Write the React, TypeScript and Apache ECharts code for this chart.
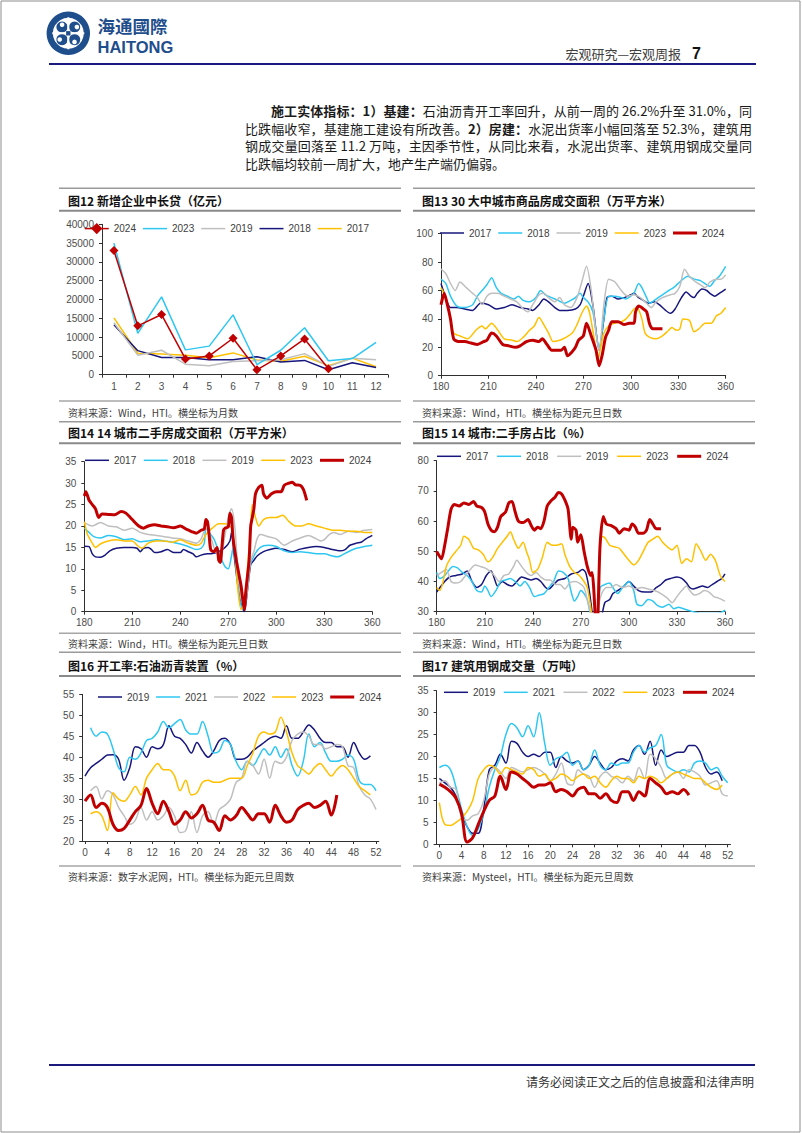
import React, { useEffect, useRef } from 'react';
import * as echarts from 'echarts';

const FONT = 'Arial, "Liberation Sans", Helvetica, sans-serif';
const CJK = '"Noto Sans CJK SC", "Noto Sans", sans-serif';
const NAVY = '#16167d';
const CYAN = '#2ec7f2';
const GRAY = '#bfbfbf';
const GOLD = '#ffc000';
const RED = '#c00000';

// ---------- 图12 新增企业中长贷（亿元） ----------
const months = ['1', '2', '3', '4', '5', '6', '7', '8', '9', '10', '11', '12'];
const loan2024 = [33000, 13000, 16000, 4200, 5000, 9700, 1300, 5000, 9500, 1600];
const loan2023 = [35000, 11000, 20700, 6600, 7600, 15900, 2700, 6500, 12500, 3700, 4300, 8600];
const loan2019 = [13800, 5200, 6500, 2800, 2400, 3500, 3700, 4000, 5600, 2200, 4400, 4000];
const loan2018 = [13300, 6400, 4600, 4600, 4000, 4000, 4800, 3400, 3800, 1300, 3200, 1900];
const loan2017 = [15100, 5700, 5500, 5200, 4500, 5800, 3900, 3600, 4900, 2400, 4400, 2100];

// ---------- 图13 30大中城市商品房成交面积 ----------
const h30_2017 = [[180,65],[183,55],[186,48],[190,48],[195,47],[200,46],[205,51],[210,50],[215,47],[220,48],[225,50],[230,48],[235,47],[238,46],[242,50],[245,54],[248,52],[252,48],[255,46],[260,46],[265,47],[268,50],[270,56],[273,65],[276,50],[280,18],[283,40],[285,55],[288,56],[292,54],[296,55],[300,57],[302,58],[305,55],[308,53],[311,51],[315,52],[318,50],[322,46],[325,44],[328,47],[332,55],[335,59],[338,56],[340,55],[342,58],[345,61],[348,60],[350,58],[353,56],[356,58],[360,61]];
const h30_2018 = [[180,68],[183,65],[186,56],[190,49],[195,48],[200,50],[203,56],[206,60],[209,64],[212,69],[215,62],[218,58],[222,56],[226,54],[229,56],[232,53],[236,52],[240,55],[243,60],[246,57],[250,55],[254,53],[258,51],[262,53],[265,55],[268,58],[270,55],[273,52],[276,45],[280,20],[283,40],[286,56],[290,56],[294,55],[297,54],[300,56],[302,58],[305,65],[307,62],[310,55],[312,51],[316,54],[320,57],[324,60],[327,62],[330,65],[333,68],[336,70],[340,68],[344,67],[348,64],[350,63],[353,67],[356,70],[360,77]];
const h30_2019 = [[180,75],[183,72],[186,65],[189,60],[192,66],[196,62],[200,58],[203,55],[206,50],[209,56],[212,58],[216,58],[220,56],[224,54],[228,52],[232,47],[235,45],[238,50],[242,57],[245,58],[248,55],[252,52],[255,55],[258,50],[262,48],[266,55],[269,66],[272,77],[275,60],[278,30],[280,18],[283,50],[286,68],[290,66],[294,60],[298,56],[302,57],[306,55],[310,51],[313,48],[316,52],[320,55],[325,57],[328,58],[331,63],[334,75],[337,70],[340,67],[344,64],[347,62],[350,66],[354,68],[357,68],[360,71]];
const h30_2023 = [[180,62],[183,55],[186,40],[188,30],[192,28],[197,26],[202,32],[206,35],[208,33],[212,37],[216,32],[220,26],[225,25],[228,24],[232,27],[236,32],[239,35],[242,41],[245,36],[248,30],[251,24],[255,25],[259,27],[263,30],[266,36],[269,44],[272,49],[274,44],[277,25],[279,10],[281,20],[283,30],[286,35],[290,37],[294,38],[297,40],[300,44],[302,47],[304,48],[307,40],[309,30],[312,27],[316,26],[320,28],[324,32],[326,34],[329,32],[331,33],[333,40],[337,39],[340,31],[343,33],[347,37],[351,37],[354,42],[357,44],[360,48]];
const h30_2024 = [[180,50],[182,58],[184,50],[186,40],[188,26],[191,24],[195,24],[199,23],[203,22],[207,24],[209,25],[212,30],[215,28],[219,22],[223,21],[227,20],[230,21],[234,24],[238,25],[242,24],[244,26],[247,22],[250,18],[253,18],[256,18],[258,20],[260,14],[263,17],[265,20],[267,25],[270,28],[272,37],[275,28],[278,18],[280,7],[282,15],[284,27],[286,32],[288,38],[292,38],[296,36],[299,37],[302,37],[303,45],[305,49],[308,47],[310,45],[312,36],[314,33],[317,33],[320,33]];

// ---------- 图14 14城市二手房成交面积 ----------
const s14_2017 = [[180,15.3],[183,15.2],[185,13.5],[187,12.8],[190,12.7],[193,13.2],[196,14.2],[200,14.8],[205,15],[210,15],[213,14.8],[215,14],[217,14.8],[220,15],[222,14.5],[224,13.8],[228,14],[232,14.5],[236,13.8],[240,13.8],[242,14.5],[245,14],[248,13.5],[250,12.8],[253,13.2],[257,13.5],[260,13.6],[264,14],[268,15],[271,16.5],[272,18.5],[274,12],[276,6],[278,2],[280,0],[282,5],[284,11],[286,12],[288,13],[292,14],[296,14.5],[300,14.8],[305,14.5],[310,14],[315,14.6],[320,15],[325,15.2],[330,15],[335,14.5],[340,14.2],[343,14.5],[346,15.5],[350,16],[353,16.2],[356,17],[360,17.8]];
const s14_2018 = [[180,19.5],[183,18.5],[186,17.5],[190,17.2],[195,17.8],[200,17.5],[205,16.8],[210,17],[215,16.3],[220,16.5],[225,16.8],[230,16.5],[235,16.2],[240,15.8],[245,15.2],[250,14.5],[253,14.8],[255,16],[256,19.5],[258,18.5],[261,17],[264,14],[266,12],[268,10.5],[270,10],[272,13],[273,15],[275,10],[277,3],[279,0.5],[281,5],[283,10],[286,13],[290,15],[295,15.5],[300,15.2],[305,14.2],[310,13.8],[315,14],[320,13.8],[325,13.5],[330,13.5],[335,13],[338,12.8],[340,13],[345,14],[350,14.8],[355,15.2],[360,15.5]];
const s14_2019 = [[180,20.8],[185,20],[190,20.8],[195,20],[200,19.8],[205,19],[210,19.5],[215,18.5],[220,18],[225,17.8],[230,17.5],[235,17.2],[240,17],[245,16.5],[250,16],[253,17],[256,19.5],[259,17.5],[262,14],[265,13],[268,18],[270,22],[272,24],[274,20],[276,10],[278,3],[280,1],[282,5],[284,12],[286,14],[288,17],[290,18],[295,17.5],[300,17],[305,15.5],[310,16.5],[315,17.2],[320,17.8],[325,17],[328,16.5],[330,16.8],[333,18],[336,18.5],[340,18],[345,18.8],[350,18.5],[355,19],[360,19.2]];
const s14_2023 = [[180,21],[182,18],[185,16],[187,15],[190,15.8],[195,16.5],[200,16.8],[205,16.5],[210,16.5],[213,15.5],[216,14.8],[220,16],[225,16.5],[230,16.5],[235,16.2],[240,16.8],[245,16],[250,15.5],[253,16],[256,18],[260,19.5],[264,20.5],[268,20.5],[272,19.5],[274,15],[276,5],[278,0.5],[280,2],[282,10],[284,20],[285,25],[287,22],[289,20],[292,21.5],[296,22],[300,22],[304,22.5],[308,21],[312,20],[316,20],[320,20.5],[325,20],[330,19.5],[335,19],[340,19],[345,18.8],[350,18.8],[355,18.5],[360,18.5]];
const s14_2024 = [[180,27],[181,28],[183,26],[185,25],[187,24],[189,22],[191,22.8],[195,22.7],[199,22.6],[203,23.4],[206,23],[210,21.5],[214,20],[217,19.5],[220,20],[224,20.3],[228,20],[232,19.8],[236,19.6],[240,20],[244,19.2],[247,18.7],[250,18.3],[253,19],[255,19.3],[256,21.5],[257,21],[258,18],[259,14.5],[261,14],[263,15],[264,12],[265,11.5],[266,15],[267,19],[268,19.5],[270,19.8],[271,23],[272,22],[273,17],[275,12],[277,8],[278,6],[279,3],[280,0.5],[281,5],[283,12],[284,20],[285,22],[286,24],[287,27.5],[289,29],[291,29.5],[292,27.5],[294,26.5],[297,27.5],[300,28],[303,28],[305,29.5],[308,30],[310,30.2],[312,29.6],[315,29.5],[317,28.5],[319,26]];

// ---------- 图15 14城市:二手房占比 ----------
const r15_2017 = [[180,36.5],[182,38],[185,40],[188,41.5],[192,42],[196,42.5],[199,43.5],[202,40],[205,38],[208,39],[211,42],[214,43.5],[216,41],[218,38.5],[221,40],[224,39],[227,38.5],[230,40],[233,41.5],[236,41],[239,40.5],[242,41],[245,40],[248,38],[250,37.5],[253,39],[256,40.5],[260,41],[264,42.5],[268,43],[271,44],[273,43],[275,38],[277,30],[279,22],[281,20],[283,28],[285,33],[288,34],[290,36],[293,37],[296,38],[300,40],[303,38.5],[306,37],[310,36.5],[314,36.5],[317,38],[320,39],[323,40.5],[326,41],[330,41.5],[333,41],[336,39.5],[338,38],[340,37.5],[343,38],[346,38.5],[349,38],[352,39],[355,40],[358,41],[360,42.5]];
const r15_2018 = [[180,43],[182,41],[185,42],[188,44],[190,45],[193,44.5],[196,43],[199,42],[202,40],[205,37],[208,36.5],[210,38.5],[212,37],[214,35],[217,37],[220,40],[223,40.5],[226,41],[229,40],[232,38.5],[235,40],[238,38],[241,35],[244,35.5],[247,36],[250,38],[253,40],[256,43.5],[259,43],[262,41],[264,36.5],[266,33.5],[268,35],[270,37],[272,36],[274,34],[276,29],[278,25],[280,24],[282,38],[285,39],[288,39.5],[290,38],[293,36],[296,38],[300,40],[303,37],[305,32.5],[308,32],[312,34],[315,33.5],[318,32],[321,31.5],[325,32.5],[328,31],[331,31.5],[334,31],[337,30.5],[340,30],[345,29.5],[350,29.5],[355,29.5],[358,29.8],[360,30.5]];
const r15_2019 = [[180,42],[183,43],[186,44],[189,40],[192,39.5],[195,40],[198,42],[201,44],[204,45.5],[207,45],[210,44.5],[213,43.5],[216,42],[219,40],[222,42],[225,42.5],[228,45],[230,47],[233,45],[236,43],[239,42],[242,43],[245,41.5],[248,40.5],[251,40.5],[254,39],[257,39],[260,37.5],[263,39.5],[266,40],[269,39.5],[272,38],[274,34],[276,30],[278,28],[280,30],[283,36],[286,38],[289,38],[292,39],[296,38],[300,38.5],[304,37.5],[308,38],[312,37.5],[316,37],[320,36],[324,34.5],[327,33],[330,35],[333,37],[336,38.5],[338,37],[341,35.5],[344,36],[347,37],[350,36.5],[353,35],[356,34.5],[360,33.5]];
const r15_2023 = [[180,38],[182,37],[184,40],[186,45],[189,48],[192,50],[195,52],[197,55],[200,54],[203,51],[206,50.5],[209,49],[212,46.5],[215,48],[218,51],[221,53],[224,55],[226,56.5],[228,54],[231,51],[234,53],[236,50],[238,47],[240,43],[243,44],[246,48],[249,53],[252,52],[255,52],[258,52.5],[260,49],[263,45],[266,43],[269,42],[272,40],[274,38],[276,32],[278,25],[280,22],[281,40],[283,55],[285,54.5],[288,52],[291,51.5],[294,51],[297,49],[300,47],[303,45.5],[306,47],[309,50],[312,53],[315,54],[318,55],[321,53],[324,51.5],[327,50.5],[330,52],[333,46],[336,47.5],[339,46.5],[342,52.5],[345,50],[348,47],[351,49],[354,47],[357,42],[360,40]];
const r15_2024 = [[180,50],[181,49],[183,47.5],[185,52],[187,58],[189,64],[191,65.5],[194,65],[197,66],[200,65.5],[203,66.5],[205,65],[208,64.5],[210,63],[212,59],[214,57],[216,56.5],[218,58],[220,61.5],[223,63],[225,66],[227,66.5],[229,63],[231,60],[234,59.5],[237,60.5],[239,58.5],[241,57],[243,58],[245,57.5],[247,60],[249,65],[251,66.5],[254,68],[256,69.5],[258,69],[260,67],[262,64],[264,54],[265,58],[267,57],[268,53],[270,55.5],[272,50],[274,45],[276,42],[277,43],[278,38],[279,28],[280,20],[281,35],[282,52],[284,61.5],[286,59],[289,58.5],[292,57.5],[294,56],[297,57.5],[300,57],[302,59],[304,58],[306,56],[309,56],[311,57],[313,60.5],[315,59],[317,57.5],[320,57.5]];

// ---------- 图16 开工率:石油沥青装置 / 图17 建筑用钢成交量 ----------
const weeks = ['0','1','2','3','4','5','6','7','8','9','10','11','12','13','14','15','16','17','18','19','20','21','22','23','24','25','26','27','28','29','30','31','32','33','34','35','36','37','38','39','40','41','42','43','44','45','46','47','48','49','50','51','52'];

const asph2019 = [35.5,37.5,38.5,39.5,40.5,40.6,39.5,34.5,37.5,42.5,42,40,42.5,42,43,47.5,45,44.5,43,41,43.5,41.5,40,41.5,44,44.5,43,39.5,39.5,40,41.5,42.5,43.5,44.5,45,44.5,47.5,44.5,44.5,46,47.7,46.5,44.5,43.5,43.5,42.5,42.5,40,43.5,41,39.5,40.3];
const asph2021 = [null,47,45,46,45.5,42,37.5,36.5,40,39.5,41,44,44.5,46,48.5,47,48,49,46.5,45.5,45.5,48.5,45,41,41.5,44,43,39,37,39,38,40,42,40.5,42.5,40,42,38,35.5,39,45.5,42.5,43.5,41,39,39,39.5,40.5,39.5,34.5,33.5,33.5,32];
const asph2022 = [null,32,33,30,32,31,28,26,24,25,28,25,27,25,26,28,26,22,22.5,27,22,26,27,24,27.5,28.5,30,34,35,39,38,36,39.5,35,39,38.5,40,44,45.5,46,45,43,43,42,42.5,43,42.5,38,37.5,33,31,30,27.5];
const asph2023 = [null,26.5,27,26,22.5,31.5,30,29.5,31,33,31,35,37,38.5,37,37,35.5,32,34.5,31,31.5,34,34.5,34,34,34.5,35,35,35,38,41,45,46,45.5,46,49.5,46,41,38,37,36,37.5,38.5,37,35.5,37,38,37,35,33,32,31];
const asph2024 = [29.5,31,28,29,28,24,22.5,23,25,27,28.5,32.5,29,26.5,29.5,27,24,25,27,25.5,26.5,28.5,25,24.5,22.5,26,25,26,28,26.5,25,26.5,26.5,24.5,28.5,26,24.5,25,27.5,28.5,29,28,28.5,29.5,26.2,31.0];

const steel2019 = [15,14,13,11,7,4,2.5,2.5,8,17,18,20.5,18.5,23.5,23,21,20,20.5,20,21,21,17.5,20,19,18.5,19,17,18,20,18.5,17,17.5,19,19.5,19,21.5,22.5,20.5,23.5,18,21.5,20,20.5,21,21,22.5,22.5,21,17.5,16,16.5,14.5];
const steel2021 = [17.5,18,17,13,8,4,2,3.5,7,13,17,20,25,27.5,26.5,24.5,27,24.5,30,23,18,19.5,20,21,18,19,17,18,21.5,18,17,18.5,18,18.5,18.5,21,22.5,21,22,22.5,25,18,17,16.5,17,16.5,18.5,19,18.5,17,17.5,15.5,14];
const steel2022 = [14,14.5,13,12.5,6,5.5,6.5,7,10,16,17.5,16.5,15,17.5,17,16.5,17,17.5,17,16,14.5,16,18.5,14,13.5,17,16,15.5,13,15.5,16.5,15.5,15,14,15.5,14.5,17.5,15,20.5,19.5,17.5,15,16,16.5,15,17,16.5,15.5,13.5,14,14.5,11.5,11];
const steel2023 = [9.5,4.5,4.3,5,6,7.5,10,15,17,18,17.5,16,17.5,17,16.5,16,17.5,17,15.5,16,14.5,15,16,15.5,14.5,15.5,16,15,15.5,14,13,14.5,15.5,15,15,14,15.5,15,15.5,15,14,15,16,16.5,16,15.5,15,15,14,13,12.5,13.5];
const steel2024 = [13.7,13,12,10.5,7,0.5,1.5,4.5,7.5,10,11,15.5,12.5,16.5,16,15,14,13,13.5,13.5,14,12,12.5,12,11,12.5,13,11.5,11.5,10.5,11.5,10,9.5,12,12,10,12,11,15,14,13,11.5,12,11.5,12.5,11.2];

// ---------- text ----------
const titles = [
  '图12 新增企业中长贷（亿元）',
  '图13 30 大中城市商品房成交面积（万平方米）',
  '图14 14 城市二手房成交面积（万平方米）',
  '图15 14 城市:二手房占比（%）',
  '图16 开工率:石油沥青装置（%）',
  '图17 建筑用钢成交量（万吨）',
];
const sources = [
  '资料来源：Wind，HTI。横坐标为月数',
  '资料来源：Wind，HTI。横坐标为距元旦日数',
  '资料来源：Wind，HTI。横坐标为距元旦日数',
  '资料来源：Wind，HTI。横坐标为距元旦日数',
  '资料来源：数字水泥网，HTI。横坐标为距元旦周数',
  '资料来源：Mysteel，HTI。横坐标为距元旦周数',
];

const ICON_THIN = 'path://M0,0H24V1.5H0Z';
const ICON_THICK = 'path://M0,0H24V3H0Z';

function buildOption() {
  const axisLine = { show: true, onZero: false, lineStyle: { color: '#303030', width: 1 } };
  const axisTick = { show: true, length: 3, lineStyle: { color: '#303030' } };
  const label = { fontSize: 10, color: '#4d4d4d', fontFamily: FONT };

  const grids = [
    { left: 102, top: 224.3, width: 286, height: 150.4 },
    { left: 441, top: 233.7, width: 284.7, height: 142 },
    { left: 84.3, top: 461.7, width: 288, height: 150 },
    { left: 436.7, top: 460.7, width: 288.3, height: 151 },
    { left: 82.2, top: 694.3, width: 296.6, height: 146.7 },
    { left: 436.6, top: 690.7, width: 293.9, height: 153.6 },
  ];

  const xDay = (i) => ({
    type: 'value', gridIndex: i, min: 180, max: 360, interval: 30,
    axisLine, axisTick, splitLine: { show: false },
    axisLabel: { ...label, margin: 6 },
  });
  const xWeek = (i) => ({
    type: 'category', gridIndex: i, data: weeks, boundaryGap: true,
    axisLine, axisTick: { ...axisTick, interval: 3, alignWithLabel: true }, splitLine: { show: false },
    axisLabel: { ...label, margin: 6, interval: 3 },
  });
  const xAxis = [
    { type: 'category', gridIndex: 0, data: months, boundaryGap: true, axisLine, axisTick, splitLine: { show: false }, axisLabel: { ...label, margin: 7, interval: 0 } },
    xDay(1), xDay(2), xDay(3), xWeek(4), xWeek(5),
  ];
  const yv = (i, min, max, interval) => ({
    type: 'value', gridIndex: i, min, max, interval,
    axisLine, axisTick, splitLine: { show: false },
    axisLabel: { ...label, margin: 8, formatter: (v) => String(v) },
  });
  const yAxis = [yv(0, 0, 40000, 5000), yv(1, 0, 100, 20), yv(2, 0, 35, 5), yv(3, 30, 80, 10), yv(4, 20, 55, 5), yv(5, 0, 35, 5)];

  const ln = (name, gi, data, color, width, smooth, z, extra = {}) => ({
    type: 'line', name, xAxisIndex: gi, yAxisIndex: gi, data,
    symbol: 'none', smooth, z,
    lineStyle: { color, width }, itemStyle: { color },
    emphasis: { disabled: true }, animation: false, ...extra,
  });

  const series = [
    ln('c12_2017', 0, loan2017, GOLD, 1.5, false, 2),
    ln('c12_2018', 0, loan2018, NAVY, 1.5, false, 2),
    ln('c12_2019', 0, loan2019, GRAY, 1.5, false, 2),
    ln('c12_2023', 0, loan2023, CYAN, 1.5, false, 2),
    ln('c12_2024', 0, loan2024, RED, 1.5, false, 3, { symbol: 'diamond', symbolSize: 9, showSymbol: true }),

    ln('c13_2017', 1, h30_2017, NAVY, 1.5, 0.25, 2),
    ln('c13_2018', 1, h30_2018, CYAN, 1.5, 0.25, 2),
    ln('c13_2019', 1, h30_2019, GRAY, 1.5, 0.25, 2),
    ln('c13_2023', 1, h30_2023, GOLD, 1.5, 0.25, 2),
    ln('c13_2024', 1, h30_2024, RED, 3, 0.25, 3),

    ln('c14_2017', 2, s14_2017, NAVY, 1.5, 0.25, 2),
    ln('c14_2018', 2, s14_2018, CYAN, 1.5, 0.25, 2),
    ln('c14_2019', 2, s14_2019, GRAY, 1.5, 0.25, 2),
    ln('c14_2023', 2, s14_2023, GOLD, 1.5, 0.25, 2),
    ln('c14_2024', 2, s14_2024, RED, 3, 0.25, 3),

    ln('c15_2017', 3, r15_2017, NAVY, 1.5, 0.25, 2),
    ln('c15_2018', 3, r15_2018, CYAN, 1.5, 0.25, 2),
    ln('c15_2019', 3, r15_2019, GRAY, 1.5, 0.25, 2),
    ln('c15_2023', 3, r15_2023, GOLD, 1.5, 0.25, 2),
    ln('c15_2024', 3, r15_2024, RED, 3, 0.25, 3),

    ln('c16_2019', 4, asph2019, NAVY, 1.5, 0.35, 2),
    ln('c16_2021', 4, asph2021, CYAN, 1.5, 0.35, 2),
    ln('c16_2022', 4, asph2022, GRAY, 1.5, 0.35, 2),
    ln('c16_2023', 4, asph2023, GOLD, 1.5, 0.35, 2),
    ln('c16_2024', 4, asph2024, RED, 3, 0.35, 3),

    ln('c17_2019', 5, steel2019, NAVY, 1.5, 0.35, 2),
    ln('c17_2021', 5, steel2021, CYAN, 1.5, 0.35, 2),
    ln('c17_2022', 5, steel2022, GRAY, 1.5, 0.35, 2),
    ln('c17_2023', 5, steel2023, GOLD, 1.5, 0.35, 2),
    ln('c17_2024', 5, steel2024, RED, 3, 0.35, 3),
  ];

  const itemFor = (n) => (n === 'c12_2024' ? { name: n } : { name: n, icon: n.endsWith('2024') ? ICON_THICK : ICON_THIN });
  const lg = (left, cy, gap, names) => ({
    left, top: cy - 7, padding: 0, itemWidth: 24, itemHeight: 14, itemGap: gap,
    data: names.map(itemFor),
    selectedMode: false,
    lineStyle: { width: 1.5 },
    itemStyle: { borderWidth: 0 },
    textStyle: { fontSize: 10, color: '#404040', fontFamily: FONT },
    formatter: (n) => n.split('_')[1],
  });
  const legend = [
    lg(84, 230, 7, ['c12_2024', 'c12_2023', 'c12_2019', 'c12_2018', 'c12_2017']),
    lg(440, 235, 7, ['c13_2017', 'c13_2018', 'c13_2019', 'c13_2023', 'c13_2024']),
    lg(85, 462.3, 7.5, ['c14_2017', 'c14_2018', 'c14_2019', 'c14_2023', 'c14_2024']),
    lg(437, 458.3, 8.8, ['c15_2017', 'c15_2018', 'c15_2019', 'c15_2023', 'c15_2024']),
    lg(98, 699, 6.8, ['c16_2019', 'c16_2021', 'c16_2022', 'c16_2023', 'c16_2024']),
    lg(444, 694.3, 8.5, ['c17_2019', 'c17_2021', 'c17_2022', 'c17_2023', 'c17_2024']),
  ];

  const g = [];
  const hline = (x1, x2, y, color, w) => g.push({ type: 'line', silent: true, shape: { x1, y1: y, x2, y2: y }, style: { stroke: color, lineWidth: w } });
  const txt = (x, y, text, font, fill, align = 'left') => g.push({ type: 'text', silent: true, x, y, style: { text, font, fill, align, verticalAlign: 'middle' } });

  // page frame
  g.push({ type: 'rect', silent: true, shape: { x: 1, y: 1, width: 799, height: 1131 }, style: { fill: 'none', stroke: '#8c8c8c', lineWidth: 1 } });

  // logo
  const LB = '#1f4e8c';
  const cx = 68.3, cy = 33.3;
  g.push({ type: 'circle', silent: true, shape: { cx, cy, r: 21.7 }, style: { fill: LB } });
  g.push({ type: 'circle', silent: true, shape: { cx, cy, r: 15.5 }, style: { fill: '#fff' } });
  [[-1, -1], [1, -1], [1, 1], [-1, 1]].forEach(([sx, sy]) => {
    g.push({ type: 'circle', silent: true, shape: { cx: cx + sx * 6.3, cy: cy + sy * 6.3, r: 5.6 }, style: { fill: LB } });
    g.push({ type: 'circle', silent: true, shape: { cx: cx + sx * 7.4 - sy * 1.2, cy: cy + sy * 7.4 + sx * 1.2, r: 2.3 }, style: { fill: '#fff' } });
  });
  g.push({ type: 'rect', silent: true, shape: { x: cx - 1, y: cy - 16, width: 2, height: 32 }, style: { fill: '#fff' } });
  g.push({ type: 'rect', silent: true, shape: { x: cx - 16, y: cy - 1, width: 32, height: 2 }, style: { fill: '#fff' } });
  g.push({ type: 'rect', silent: true, shape: { x: cx - 2.2, y: cy - 2.2, width: 4.4, height: 4.4 }, style: { fill: LB } });
  txt(97.5, 25, '海通國際', 'bold 17.5px ' + CJK, LB);
  txt(97.5, 47, 'HAITONG', 'bold 16.5px ' + FONT, LB);

  // header
  txt(681, 53, '宏观研究—宏观周报', '13px ' + CJK, '#404040', 'right');
  txt(692, 53, '7', 'bold 16px ' + FONT, '#111');
  hline(49, 756, 64, '#1a1a7e', 2);

  // chart blocks
  const cols = [[59, 401, 68], [413, 755, 422]];
  const rows = [
    { top: 188.3, tl: 210.7, sl: 401, ty: 200, sy: 412 },
    { top: 421.7, tl: 443.3, sl: 633.3, ty: 432.7, sy: 643.3 },
    { top: 652.3, tl: 676, sl: 866, ty: 665, sy: 876 },
  ];
  for (let r = 0; r < 3; r++) {
    for (let c = 0; c < 2; c++) {
      const i = r * 2 + c;
      const [x1, x2, tx] = cols[c];
      const rw = rows[r];
      hline(x1, x2, rw.top, '#9a9a9a', 1.5);
      hline(x1, x2, rw.tl, '#8a8a8a', 2);
      hline(x1, x2, rw.sl, '#a6a6a6', 1.5);
      txt(tx, rw.ty, titles[i], 'bold 12px ' + CJK, '#111');
      txt(tx, rw.sy, sources[i], '10px ' + CJK, '#404040');
    }
  }

  // footer
  hline(49, 755, 1065, '#1a1a7e', 2);
  txt(754, 1081, '请务必阅读正文之后的信息披露和法律声明', '12px ' + CJK, '#333', 'right');

  return {
    animation: false,
    backgroundColor: '#ffffff',
    grid: grids,
    xAxis, yAxis, series, legend,
    graphic: { elements: g },
  };
}

const para = { fontFamily: CJK, fontSize: 13, lineHeight: '17.5px', color: '#1a1a1a' } as any;
const just = { textAlign: 'justify', textAlignLast: 'justify' } as any;

export default function App() {
  const ref = useRef<HTMLDivElement>(null);
  useEffect(() => {
    const chart = echarts.init(ref.current as HTMLDivElement, null, { renderer: 'svg' });
    chart.setOption(buildOption() as any);
    return () => chart.dispose();
  }, []);
  return (
    <div style={{ position: 'absolute', left: 0, top: 0, width: 802, height: 1133, background: '#fff', overflow: 'hidden' }}>
      <div ref={ref} style={{ position: 'absolute', left: 0, top: 0, width: 802, height: 1133 }} />
      <div style={{ position: 'absolute', left: 245, top: 102.2, width: 507, ...para }}>
        <div style={{ ...just, paddingLeft: 26 }}>
          <b>施工实体指标：1）基建：</b>石油沥青开工率回升，从前一周的 26.2%升至 31.0%，同
        </div>
        <div style={just}>
          比跌幅收窄，基建施工建设有所改善。<b>2）房建：</b>水泥出货率小幅回落至 52.3%，建筑用
        </div>
        <div style={just}>
          钢成交量回落至 11.2 万吨，主因季节性，从同比来看，水泥出货率、建筑用钢成交量同
        </div>
        <div>比跌幅均较前一周扩大，地产生产端仍偏弱。</div>
      </div>
    </div>
  );
}
